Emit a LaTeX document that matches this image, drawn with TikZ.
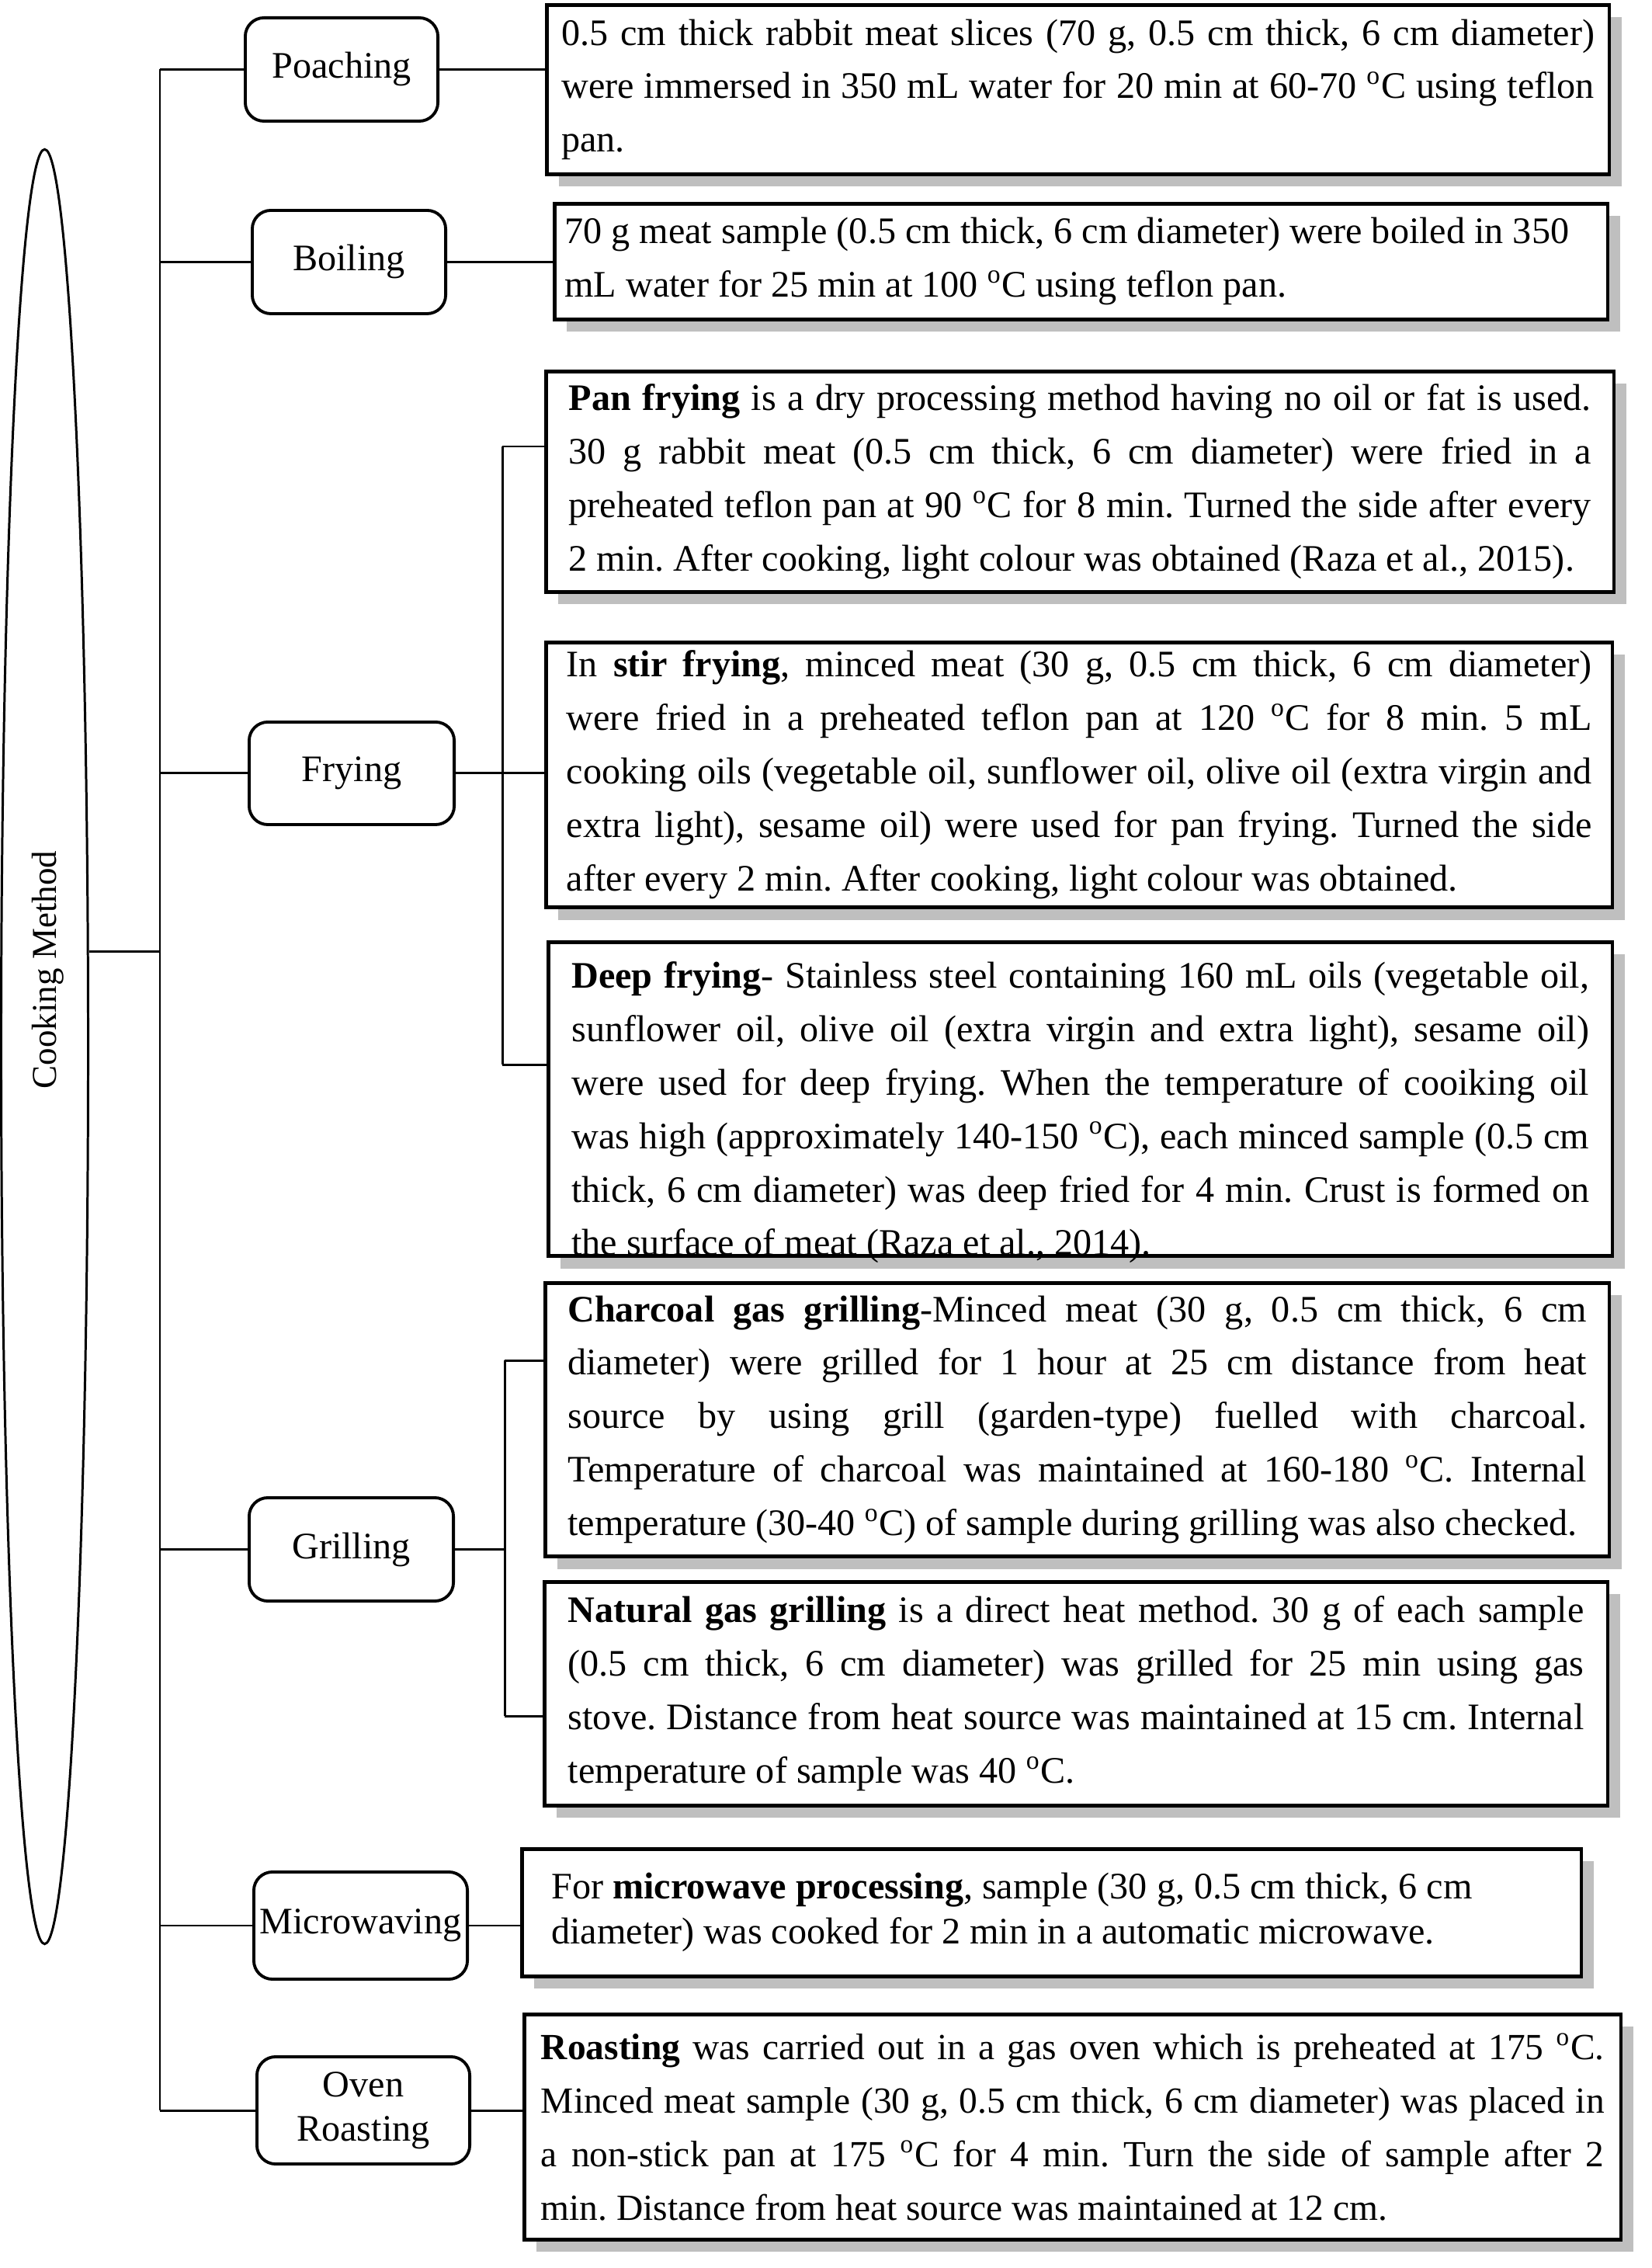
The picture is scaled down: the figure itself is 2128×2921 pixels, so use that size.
\documentclass[tikz,border=0pt]{standalone}
\usepackage{fontspec}
\setmainfont{Liberation Serif}
\usepackage{tikz}
\usetikzlibrary{positioning, shapes.geometric, shadows}
\setlength{\parindent}{0pt}
\frenchspacing
\newlength{\jw}
\newcommand{\jl}[1]{\makebox[\jw][s]{#1}\\}
\newcommand{\degc}{\textsuperscript{o}C}

\begin{document}
\begin{tikzpicture}[x=0.01cm, y=-0.01cm,
  method/.style={draw, line width=1.1pt, rounded corners=0.24cm, anchor=north west,
                 inner sep=0pt, align=center, font=\fontsize{13.7}{16.2}\selectfont},
  txtbox/.style={draw, fill=white, line width=1.3pt, anchor=north west, inner ysep=0pt,
                 align=flush left, font=\fontsize{13.7}{19.6}\selectfont,
                 drop shadow={shadow xshift=0.16cm, shadow yshift=-0.16cm, fill=black!25, opacity=1}},
  tw/.style={text width=#1, execute at begin node={\setlength{\jw}{#1}}},
  link/.style={line width=0.85pt}
]
  \useasboundingbox (0,0) rectangle (2128,2921);

  \node[draw, ellipse, line width=0.85pt, minimum width=1.12cm, minimum height=23.1cm, inner sep=0pt] (cook) at (57.5,1348) {};
  \node[rotate=90, font=\fontsize{12.8}{15}\selectfont] (cooktxt) at (62,1249) {Cooking Method};
  \coordinate (trk) at (206,0);

  \node[method, minimum width=2.48cm, minimum height=1.33cm] (poach) at (314,21)   {Poaching};
  \node[method, minimum width=2.49cm, minimum height=1.33cm] (boil)  at (323,269)  {Boiling};
  \node[method, minimum width=2.64cm, minimum height=1.32cm] (fry)   at (319,928)  {Frying};
  \node[method, minimum width=2.63cm, minimum height=1.33cm] (grill) at (319,1927) {Grilling};
  \node[method, minimum width=2.75cm, minimum height=1.38cm] (micro) at (325,2409) {Microwaving};
  \node[method, minimum width=2.74cm, minimum height=1.38cm] (oven)  at (329,2647) {Oven\\Roasting};

  \node[txtbox, minimum width=13.68cm, minimum height=2.18cm, tw=13.3cm, inner xsep=0.19cm] (poachtxt) at (702,4) {%
    \jl{0.5 cm thick rabbit meat slices (70 g, 0.5 cm thick, 6 cm diameter)}
    \jl{were immersed in 350 mL water for 20 min at 60-70 \degc{} using teflon}
    pan.};
  \node[txtbox, minimum width=13.56cm, minimum height=1.49cm, tw=13.3cm, inner xsep=0.13cm] (boiltxt) at (712,260) {%
    70 g meat sample (0.5 cm thick, 6 cm diameter) were boiled in 350\\
    mL water for 25 min at 100 \degc{} using teflon pan.};

  \node[txtbox, minimum width=13.75cm, minimum height=2.84cm, tw=13.16cm, inner xsep=0.295cm] (pan) at (701,476) {%
    \jl{\textbf{Pan frying} is a dry processing method having no oil or fat is used.}
    \jl{30 g rabbit meat (0.5 cm thick, 6 cm diameter) were fried in a}
    \jl{preheated teflon pan at 90 \degc{} for 8 min. Turned the side after every}
    2 min. After cooking, light colour was obtained (Raza et al., 2015).};
  \node[txtbox, minimum width=13.73cm, minimum height=3.41cm, tw=13.2cm, inner xsep=0.265cm] (stir) at (701,825) {%
    \jl{In \textbf{stir frying}, minced meat (30 g, 0.5 cm thick, 6 cm diameter)}
    \jl{were fried in a preheated teflon pan at 120 \degc{} for 8 min. 5 mL}
    \jl{cooking oils (vegetable oil, sunflower oil, olive oil (extra virgin and}
    \jl{extra light), sesame oil) were used for pan frying. Turned the side}
    after every 2 min. After cooking, light colour was obtained.};
  \node[txtbox, minimum width=13.7cm, tw=13.1cm, inner xsep=0.3cm, text height=0.59cm, text depth=3.45cm] (deep) at (704,1211) {%
    \jl{\textbf{Deep frying}- Stainless steel containing 160 mL oils (vegetable oil,}
    \jl{sunflower oil, olive oil (extra virgin and extra light), sesame oil)}
    \jl{were used for deep frying. When the temperature of cooiking oil}
    \jl{was high (approximately 140-150 \degc), each minced sample (0.5 cm}
    \jl{thick, 6 cm diameter) was deep fried for 4 min. Crust is formed on}
    the surface of meat (Raza et al., 2014).};

  \node[txtbox, minimum width=13.7cm, minimum height=3.52cm, tw=13.12cm, inner xsep=0.29cm] (charc) at (700,1650) {%
    \jl{\textbf{Charcoal gas grilling}-Minced meat (30 g, 0.5 cm thick, 6 cm}
    \jl{diameter) were grilled for 1 hour at 25 cm distance from heat}
    \jl{source by using grill (garden-type) fuelled with charcoal.}
    \jl{Temperature of charcoal was maintained at 160-180 \degc. Internal}
    temperature (30-40 \degc) of sample during grilling was also checked.};
  \node[txtbox, minimum width=13.69cm, minimum height=2.88cm, tw=13.08cm, inner xsep=0.305cm] (natgas) at (699,2035) {%
    \jl{\textbf{Natural gas grilling} is a direct heat method. 30 g of each sample}
    \jl{(0.5 cm thick, 6 cm diameter) was grilled for 25 min using gas}
    \jl{stove. Distance from heat source was maintained at 15 cm. Internal}
    temperature of sample was 40 \degc.};

  \node[txtbox, minimum width=13.64cm, minimum height=1.64cm, tw=12.88cm, inner xsep=0.38cm,
        font=\fontsize{13.7}{16.5}\selectfont] (microtxt) at (670,2379) {%
    For \textbf{microwave processing}, sample (30 g, 0.5 cm thick, 6 cm\\
    diameter) was cooked for 2 min in a automatic microwave.};
  \node[txtbox, minimum width=14.12cm, minimum height=2.9cm, tw=13.69cm, inner xsep=0.215cm,
        font=\fontsize{13.5}{19.6}\selectfont] (roast) at (673,2592) {%
    \jl{\textbf{Roasting} was carried out in a gas oven which is preheated at 175 \degc.}
    \jl{Minced meat sample (30 g, 0.5 cm thick, 6 cm diameter) was placed in}
    \jl{a non-stick pan at 175 \degc{} for 4 min. Turn the side of sample after 2}
    min. Distance from heat source was maintained at 12 cm.};

  \draw[link] (poach.west -| trk) -- (oven.west -| trk);
  \foreach \m in {poach, boil, fry, grill, micro, oven}
    \draw[link] (\m.west -| trk) -- (\m.west);
  \draw[link] (cook.65) -- (cook.65 -| trk);

  \draw[link] (poach.east) -- (poach.east -| poachtxt.west);
  \draw[link] (boil.east)  -- (boil.east -| boiltxt.west);
  \draw[link] (micro.east) -- (micro.east -| microtxt.west);
  \draw[link] (oven.east)  -- (oven.east -| roast.west);

  \coordinate (fj1) at (647,575);
  \coordinate (fj3) at (647,1371);
  \draw[link] (fj1) -- (fj3);
  \draw[link] (fry.east) -- (fry.east -| stir.west);
  \draw[link] (fj1) -- (fj1 -| pan.west);
  \draw[link] (fj3) -- (fj3 -| deep.west);

  \coordinate (gj1) at (650,1752);
  \coordinate (gj2) at (650,2210);
  \draw[link] (gj1) -- (gj2);
  \draw[link] (grill.east) -- (grill.east -| gj1);
  \draw[link] (gj1) -- (gj1 -| charc.west);
  \draw[link] (gj2) -- (gj2 -| natgas.west);
\end{tikzpicture}
\end{document}
